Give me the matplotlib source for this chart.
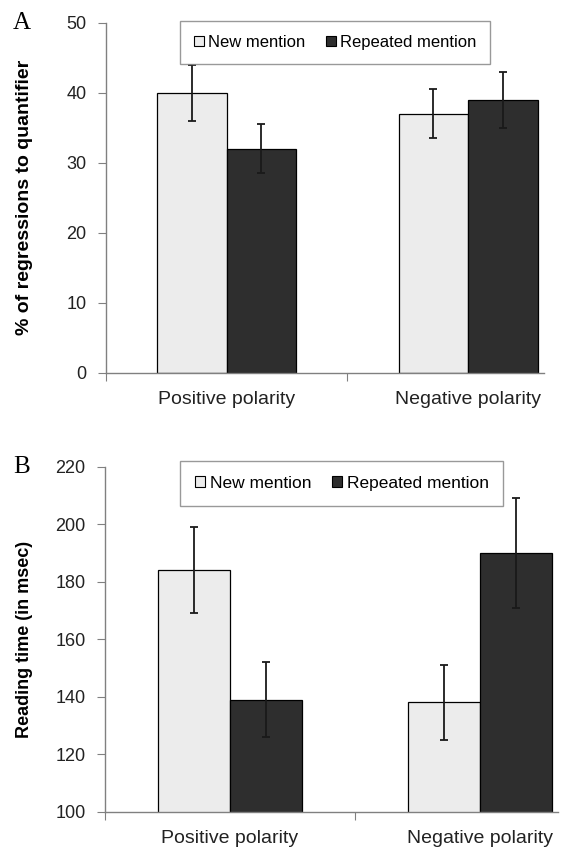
import numpy as np
import matplotlib
matplotlib.use("Agg")
import matplotlib.pyplot as plt
from matplotlib.patches import Patch

plt.rcParams['font.family'] = ['Liberation Sans', 'DejaVu Sans']

# data
categories = ["Positive polarity", "Negative polarity"]
series = ["New mention", "Repeated mention"]
colors = ["#ececec", "#2e2e2e"]

regress_new = [40, 37]
regress_new_err = [4, 3.5]
regress_rep = [32, 39]
regress_rep_err = [3.5, 4]

rt_new = [184, 138]
rt_new_err = [15, 13]
rt_rep = [139, 190]
rt_rep_err = [13, 19]

W, H = 563, 852
fig = plt.figure(figsize=(W / 100, H / 100), dpi=100)


def px_axes(l, r, t, b):
    return fig.add_axes([l / W, 1 - b / H, (r - l) / W, (b - t) / H])


def draw_panel(ax, vals, errs, ylim, yticks, ylabel, xmax, ylab_size, leg_size, leg_xy):
    x = np.arange(len(categories)) + 0.5
    bw = 0.288
    for i in range(2):
        ax.bar(x + (i - 0.5) * bw, vals[i], bw, color=colors[i], edgecolor="black",
               linewidth=0.9, zorder=2)
        ax.errorbar(x + (i - 0.5) * bw, vals[i], yerr=errs[i], fmt="none",
                    ecolor="#1a1a1a", elinewidth=1.3, capsize=3, capthick=1.3, zorder=3)
    ax.set_xlim(0, xmax)
    ax.set_ylim(*ylim)
    ax.set_yticks(yticks)
    # category borders get the tick marks, names sit in between
    ax.set_xticks([0, 1])
    ax.set_xticklabels([])
    ax.set_xticks(x, minor=True)
    ax.set_xticklabels(categories, minor=True)
    ax.tick_params(axis="x", which="minor", length=0, pad=13, labelsize=14)
    ax.tick_params(axis="x", which="major", length=6, color="#808080", direction="out")
    ax.tick_params(axis="y", length=6, color="#808080", labelsize=13, pad=8,
                   labelcolor="#222222")
    ax.tick_params(axis="x", labelcolor="#222222", which="both")
    for s in ["top", "right"]:
        ax.spines[s].set_visible(False)
    for s in ["left", "bottom"]:
        ax.spines[s].set_color("#808080")
        ax.spines[s].set_linewidth(1.0)
    ax.set_ylabel(ylabel, fontsize=ylab_size, fontweight="bold")
    pos = ax.get_position()
    l, r = pos.x0 * W, pos.x1 * W
    ax.yaxis.set_label_coords((33 - l) / (r - l), 0.5)

    handles = [Patch(facecolor=colors[i], edgecolor="black", linewidth=0.8) for i in range(2)]
    leg = fig.legend(handles, series, loc="upper left",
                     bbox_to_anchor=(leg_xy[0] / W, 1 - leg_xy[1] / H),
                     borderaxespad=0, ncol=2, fontsize=leg_size, frameon=True, fancybox=False,
                     handlelength=0.6, handleheight=0.6, handletextpad=0.25,
                     columnspacing=1.2, borderpad=0.85, edgecolor="#808080")
    leg.get_frame().set_linewidth(1.0)
    return leg


axA = px_axes(106, 544, 22.7, 372.7)
draw_panel(axA, [regress_new, regress_rep], [regress_new_err, regress_rep_err],
           (0, 50), [0, 10, 20, 30, 40, 50], "% of regressions to quantifier",
           1.814, 14, 12, (180, 20.5))

axB = px_axes(105, 558, 466.7, 811.7)
draw_panel(axB, [rt_new, rt_rep], [rt_new_err, rt_rep_err],
           (100, 220), [100, 120, 140, 160, 180, 200, 220], "Reading time (in msec)",
           1.812, 13, 12.5, (180, 461))

fig.text(13 / W, 1 - 23 / H, "A", family="Liberation Serif", fontsize=18, va="center", ha="left")
fig.text(13 / W, 1 - 467 / H, "B", family="Liberation Serif", fontsize=18, va="center", ha="left")

fig.savefig("out.png", dpi=100)
